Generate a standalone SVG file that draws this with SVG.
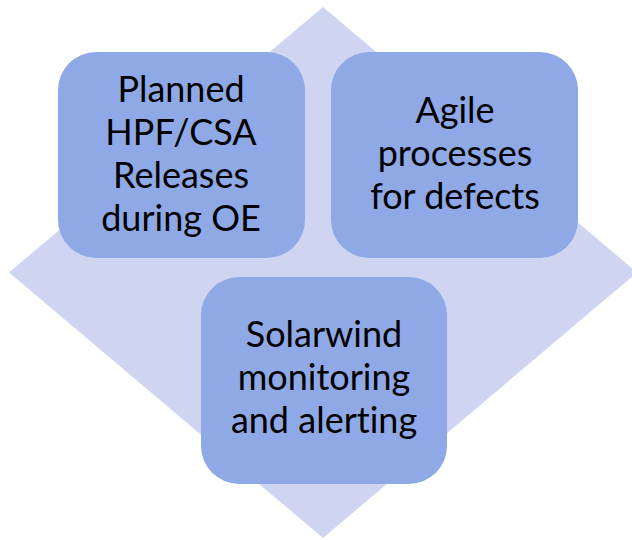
<svg xmlns="http://www.w3.org/2000/svg" width="632" height="540" viewBox="0 0 632 540">
  <style>
    .bg { fill: #ffffff; }
    .diamond { fill: #CFD5F0; }
    .box { fill: #8FA9E7; }
    .lbl { font-family: Lato, "Open Sans", "Liberation Sans", sans-serif; font-size: 36px; fill: #000000; text-anchor: middle; font-variant-ligatures: none; }
  </style>
  <rect class="bg" x="0" y="0" width="632" height="540"/>
  <polygon class="diamond" points="323,7 637,272.5 323,538 9,272.5"/>
  <g id="connectors"></g>
  <g id="node-planned">
    <rect class="box" x="58" y="52" width="247" height="206" rx="38" ry="38"/>
    <text class="lbl" x="181" y="102">Planned</text>
    <text class="lbl" x="181" y="145">HPF/CSA</text>
    <text class="lbl" x="181" y="188">Releases</text>
    <text class="lbl" x="181" y="231">during OE</text>
  </g>
  <g id="node-agile">
    <rect class="box" x="331" y="52" width="247" height="206" rx="38" ry="38"/>
    <text class="lbl" x="455" y="123">Agile</text>
    <text class="lbl" x="455" y="166">processes</text>
    <text class="lbl" x="455" y="209">for defects</text>
  </g>
  <g id="node-solarwind">
    <rect class="box" x="201" y="277" width="246" height="207" rx="38" ry="38"/>
    <text class="lbl" x="324" y="347">Solarwind</text>
    <text class="lbl" x="324" y="390">monitoring</text>
    <text class="lbl" x="324" y="433">and alerting</text>
  </g>
</svg>
